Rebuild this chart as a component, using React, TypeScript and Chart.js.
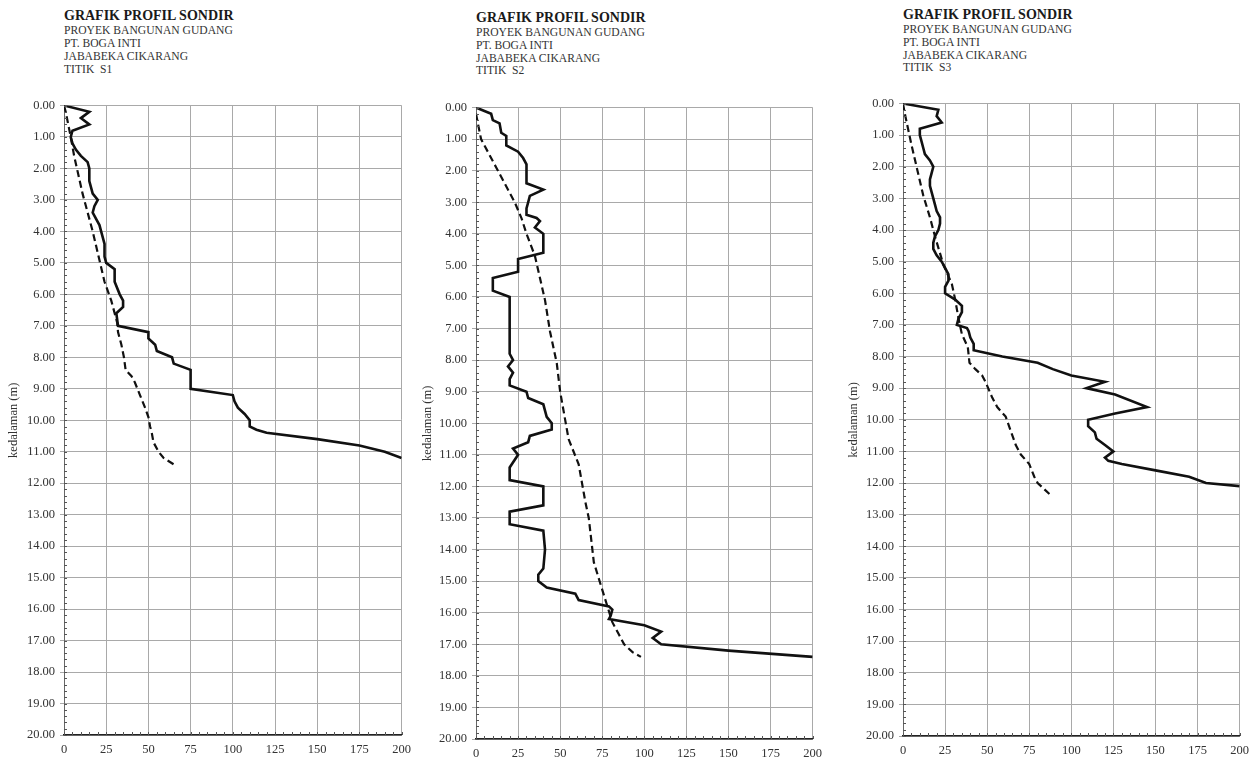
import React, { useEffect, useRef } from "react";
import { Chart, registerables } from "chart.js";

Chart.register(...registerables);

// ---------- Data (value, depth) ----------
// S1
const S1_CONE_VALUE = [0, 15, 10, 15, 5, 4, 5, 7, 10, 14, 15, 15, 17, 20, 18, 17, 19, 21, 22, 24, 24, 25, 30, 30, 33, 35, 35, 31, 32, 50, 50, 54, 55, 64, 65, 75, 75, 100, 101, 103, 107, 110, 110, 114, 120, 150, 175, 190, 200];
const S1_CONE_DEPTH = [0, 0.2, 0.4, 0.6, 0.8, 1.0, 1.2, 1.4, 1.6, 1.8, 2.0, 2.4, 2.8, 3.0, 3.2, 3.4, 3.6, 3.8, 4.0, 4.4, 4.8, 5.0, 5.2, 5.6, 6.0, 6.2, 6.4, 6.6, 7.0, 7.2, 7.4, 7.6, 7.8, 8.0, 8.2, 8.4, 9.0, 9.2, 9.4, 9.6, 9.8, 10.0, 10.2, 10.3, 10.4, 10.6, 10.8, 11.0, 11.2];
const S1_FRICTION_VALUE = [0, 1, 2.5, 4, 6, 8.5, 11, 14, 17, 20.5, 24, 28, 31.5, 32, 34, 35.5, 36.5, 40, 42, 45, 48, 50, 51, 52, 53, 56, 59, 65];
const S1_FRICTION_DEPTH = [0, 0.2, 0.6, 1.0, 1.6, 2.2, 2.8, 3.4, 4.0, 4.8, 5.6, 6.2, 6.9, 7.2, 7.6, 8.0, 8.4, 8.6, 8.8, 9.2, 9.6, 9.9, 10.2, 10.4, 10.7, 11.0, 11.2, 11.4];

// S2
const S2_CONE_VALUE = [0, 9, 10, 14, 15, 18, 18, 25, 28, 30, 30, 40, 32, 31, 30, 30, 36, 38, 35, 40, 40, 25, 25, 10, 10, 20, 20, 22, 19, 22, 20, 20, 30, 31, 40, 41, 42, 45, 45, 32, 31, 22, 25, 20, 20, 40, 40, 20, 20, 40, 41, 40, 37, 37, 42, 59, 61, 79, 81, 80, 79, 100, 110, 105, 110, 150, 200];
const S2_CONE_DEPTH = [0, 0.2, 0.4, 0.5, 0.8, 0.9, 1.2, 1.4, 1.6, 1.8, 2.4, 2.6, 2.8, 3.0, 3.2, 3.4, 3.5, 3.6, 3.8, 4.0, 4.6, 4.8, 5.2, 5.4, 5.8, 6.0, 7.8, 8.0, 8.2, 8.4, 8.6, 8.8, 9.0, 9.2, 9.4, 9.6, 9.8, 10.0, 10.2, 10.4, 10.6, 10.8, 11.0, 11.4, 11.8, 12.0, 12.6, 12.8, 13.2, 13.4, 14.0, 14.6, 14.8, 15.0, 15.2, 15.4, 15.6, 15.8, 15.9, 16.1, 16.2, 16.4, 16.6, 16.8, 17.0, 17.2, 17.4];
const S2_FRICTION_VALUE = [0, 3, 7, 12, 17, 23, 27, 30, 35, 38, 41, 44, 46, 48, 50, 53, 55, 61, 63, 65, 67, 68.5, 70, 74, 77.5, 81, 85, 88, 93, 98];
const S2_FRICTION_DEPTH = [0.2, 1.0, 1.4, 1.9, 2.4, 3.0, 3.5, 4.0, 4.7, 5.4, 6.1, 7.1, 7.6, 8.1, 9.0, 9.9, 10.5, 11.3, 11.9, 12.5, 13.0, 13.7, 14.4, 15.1, 15.7, 16.3, 16.7, 17.0, 17.25, 17.4];

// S3
const S3_CONE_VALUE = [0, 21, 20, 23, 10, 10, 11, 12, 13, 16, 18, 17, 16, 16, 17, 18, 19, 20, 22, 22, 21, 19, 18, 18, 20, 23, 25, 27, 27, 25, 25, 31, 35, 35, 33, 32, 38, 39, 40, 42, 42, 59, 80, 89, 100, 120, 109, 126, 145, 126, 110, 110, 114, 115, 120, 125, 120, 122, 130, 150, 170, 180, 200];
const S3_CONE_DEPTH = [0, 0.2, 0.4, 0.6, 0.8, 1.0, 1.2, 1.4, 1.6, 1.8, 2.0, 2.2, 2.4, 2.6, 2.8, 3.0, 3.2, 3.4, 3.6, 3.8, 4.0, 4.2, 4.4, 4.6, 4.8, 5.0, 5.2, 5.4, 5.6, 5.8, 6.0, 6.2, 6.4, 6.6, 6.8, 7.0, 7.1, 7.2, 7.4, 7.6, 7.8, 8.0, 8.2, 8.4, 8.6, 8.8, 9.0, 9.2, 9.6, 9.8, 10.0, 10.2, 10.4, 10.6, 10.8, 11.0, 11.2, 11.3, 11.4, 11.6, 11.8, 12.0, 12.1];
const S3_FRICTION_VALUE = [0, 1, 5, 8.5, 12, 16, 19, 24, 29, 31, 33, 35, 38.5, 39.5, 43, 47, 49, 53, 56, 61, 63, 67, 70, 75, 78, 80, 84, 87];
const S3_FRICTION_DEPTH = [0, 0.3, 1.3, 2.1, 2.9, 3.6, 4.2, 5.1, 5.7, 6.2, 6.8, 7.3, 7.7, 8.2, 8.4, 8.6, 8.8, 9.3, 9.6, 9.9, 10.2, 10.8, 11.1, 11.4, 11.8, 12.0, 12.2, 12.35];

// ---------- Axis / text ----------
const X_MIN = 0;
const X_MAX = 200;
const X_STEP = 25;
const X_MINOR_STEP = 5;
const DEPTH_MIN = 0;
const DEPTH_MAX = 20;
const DEPTH_STEP = 1;
const DEPTH_MINOR_STEP = 0.2;
const Y_TITLE = "kedalaman (m)";
const TITLE_MAIN = "GRAFIK PROFIL SONDIR";
const TITLE_SUB = ["PROYEK BANGUNAN GUDANG", "PT. BOGA INTI", "JABABEKA CIKARANG"];
const POINT_NAMES = ["TITIK  S1", "TITIK  S2", "TITIK  S3"];

const FONT = "'Liberation Serif', 'Times New Roman', Times, serif";

function toPoints(values: number[], depths: number[]) {
  return values.map((v, i) => ({ x: v, y: depths[i] }));
}

const minorTicksPlugin = {
  id: "minorTicks",
  afterDraw(chart: any) {
    const { ctx, chartArea, scales } = chart;
    const x = scales.x;
    const y = scales.y;
    ctx.save();
    ctx.strokeStyle = "#555";
    ctx.lineWidth = 1;
    const nY = Math.round((DEPTH_MAX - DEPTH_MIN) / DEPTH_MINOR_STEP);
    for (let i = 0; i <= nY; i++) {
      const py = Math.round(y.getPixelForValue(DEPTH_MIN + i * DEPTH_MINOR_STEP)) + 0.5;
      ctx.beginPath();
      ctx.moveTo(chartArea.left, py);
      ctx.lineTo(chartArea.left + 3, py);
      ctx.stroke();
    }
    const nX = Math.round((X_MAX - X_MIN) / X_MINOR_STEP);
    for (let i = 0; i <= nX; i++) {
      const px = Math.round(x.getPixelForValue(X_MIN + i * X_MINOR_STEP)) + 0.5;
      ctx.beginPath();
      ctx.moveTo(px, chartArea.bottom);
      ctx.lineTo(px, chartArea.bottom - 3);
      ctx.stroke();
    }
    ctx.restore();
  },
};

type PanelProps = {
  left: number;
  right: number;
  top: number;
  bottom: number;
  labelX: number;
  titleBaseline: number;
  name: string;
  coneV: number[];
  coneD: number[];
  fricV: number[];
  fricD: number[];
};

const PAD_TOP = 8;
const PAD_RIGHT = 14;
const X_AXIS_H = 22;
const Y_TITLE_SIZE = 12.5;

function Panel(p: PanelProps) {
  const ref = useRef<HTMLCanvasElement>(null);
  const canvasLeft = Math.round(p.labelX - 4 - (Y_TITLE_SIZE * 1.2) / 2);
  const yAxisW = p.left - canvasLeft;
  const plotW = p.right - p.left;
  const plotH = p.bottom - p.top;
  const cw = yAxisW + plotW + PAD_RIGHT;
  const ch = PAD_TOP + plotH + X_AXIS_H;

  useEffect(() => {
    if (!ref.current) return;
    const chart = new Chart(ref.current, {
      type: "scatter",
      data: {
        datasets: [
          {
            data: toPoints(p.fricV, p.fricD),
            showLine: true,
            borderColor: "#111",
            borderWidth: 2.2,
            borderDash: [7, 4],
            pointRadius: 0,
            fill: false,
          },
          {
            data: toPoints(p.coneV, p.coneD),
            showLine: true,
            borderColor: "#111",
            borderWidth: 2.6,
            pointRadius: 0,
            fill: false,
          },
        ],
      },
      options: {
        responsive: false,
        animation: false,
        devicePixelRatio: 1,
        events: [],
        layout: { padding: { top: PAD_TOP, right: PAD_RIGHT, left: 0, bottom: 0 } },
        plugins: { legend: { display: false }, tooltip: { enabled: false }, title: { display: false } },
        scales: {
          x: {
            type: "linear",
            position: "bottom",
            min: X_MIN,
            max: X_MAX,
            afterFit(scale: any) {
              scale.height = X_AXIS_H;
            },
            ticks: {
              stepSize: X_STEP,
              padding: 7,
              color: "#333",
              font: { family: FONT, size: 12.5 },
              maxRotation: 0,
            },
            grid: { color: "#a9a9a9", lineWidth: 1, drawTicks: false },
            border: { display: true, color: "#222", width: 1.5 },
          },
          y: {
            type: "linear",
            position: "left",
            min: DEPTH_MIN,
            max: DEPTH_MAX,
            reverse: true,
            afterFit(scale: any) {
              scale.width = yAxisW;
            },
            ticks: {
              stepSize: DEPTH_STEP,
              padding: 5,
              color: "#333",
              font: { family: FONT, size: 12.5 },
              callback: (v: any) => Number(v).toFixed(2),
            },
            title: {
              display: true,
              text: Y_TITLE,
              color: "#333",
              font: { family: FONT, size: Y_TITLE_SIZE },
              padding: { top: 4, bottom: 4 },
            },
            grid: { color: "#a9a9a9", lineWidth: 1, drawTicks: true, tickLength: 4 },
            border: { display: true, color: "#666", width: 1 },
          },
        },
      },
      plugins: [minorTicksPlugin],
    } as any);
    return () => chart.destroy();
  }, []);

  const lineStyle = (baseline: number, size: number, bold: boolean): React.CSSProperties => ({
    position: "absolute",
    left: p.left,
    top: baseline - Math.round(size * 0.891 + 0.5),
    fontFamily: FONT,
    fontSize: size,
    lineHeight: `${Math.round(size * 1.11)}px`,
    fontWeight: bold ? "bold" : "normal",
    color: bold ? "#1a1a1a" : "#333",
    whiteSpace: "pre",
  });

  const b = p.titleBaseline;
  return (
    <>
      <div style={lineStyle(b, 14, true)}>{TITLE_MAIN}</div>
      <div style={lineStyle(b + 14.3, 11.6, false)}>{TITLE_SUB[0]}</div>
      <div style={lineStyle(b + 27.1, 11.6, false)}>{TITLE_SUB[1]}</div>
      <div style={lineStyle(b + 40.1, 11.6, false)}>{TITLE_SUB[2]}</div>
      <div style={lineStyle(b + 52.8, 11.6, false)}>{p.name}</div>
      <canvas
        ref={ref}
        width={cw}
        height={ch}
        style={{ position: "absolute", left: canvasLeft, top: p.top - PAD_TOP, width: cw, height: ch }}
      />
    </>
  );
}

export default function App() {
  return (
    <div style={{ position: "absolute", left: 0, top: 0, width: 1257, height: 757, background: "#fff", overflow: "hidden" }}>
      <Panel left={64} right={404} top={101} bottom={735} labelX={13} titleBaseline={20.7} name={POINT_NAMES[0]}
        coneV={S1_CONE_VALUE} coneD={S1_CONE_DEPTH} fricV={S1_FRICTION_VALUE} fricD={S1_FRICTION_DEPTH} />
      <Panel left={476} right={815} top={103} bottom={739} labelX={427} titleBaseline={22.5} name={POINT_NAMES[1]}
        coneV={S2_CONE_VALUE} coneD={S2_CONE_DEPTH} fricV={S2_FRICTION_VALUE} fricD={S2_FRICTION_DEPTH} />
      <Panel left={903} right={1242} top={99} bottom={736} labelX={853} titleBaseline={19.5} name={POINT_NAMES[2]}
        coneV={S3_CONE_VALUE} coneD={S3_CONE_DEPTH} fricV={S3_FRICTION_VALUE} fricD={S3_FRICTION_DEPTH} />
    </div>
  );
}
